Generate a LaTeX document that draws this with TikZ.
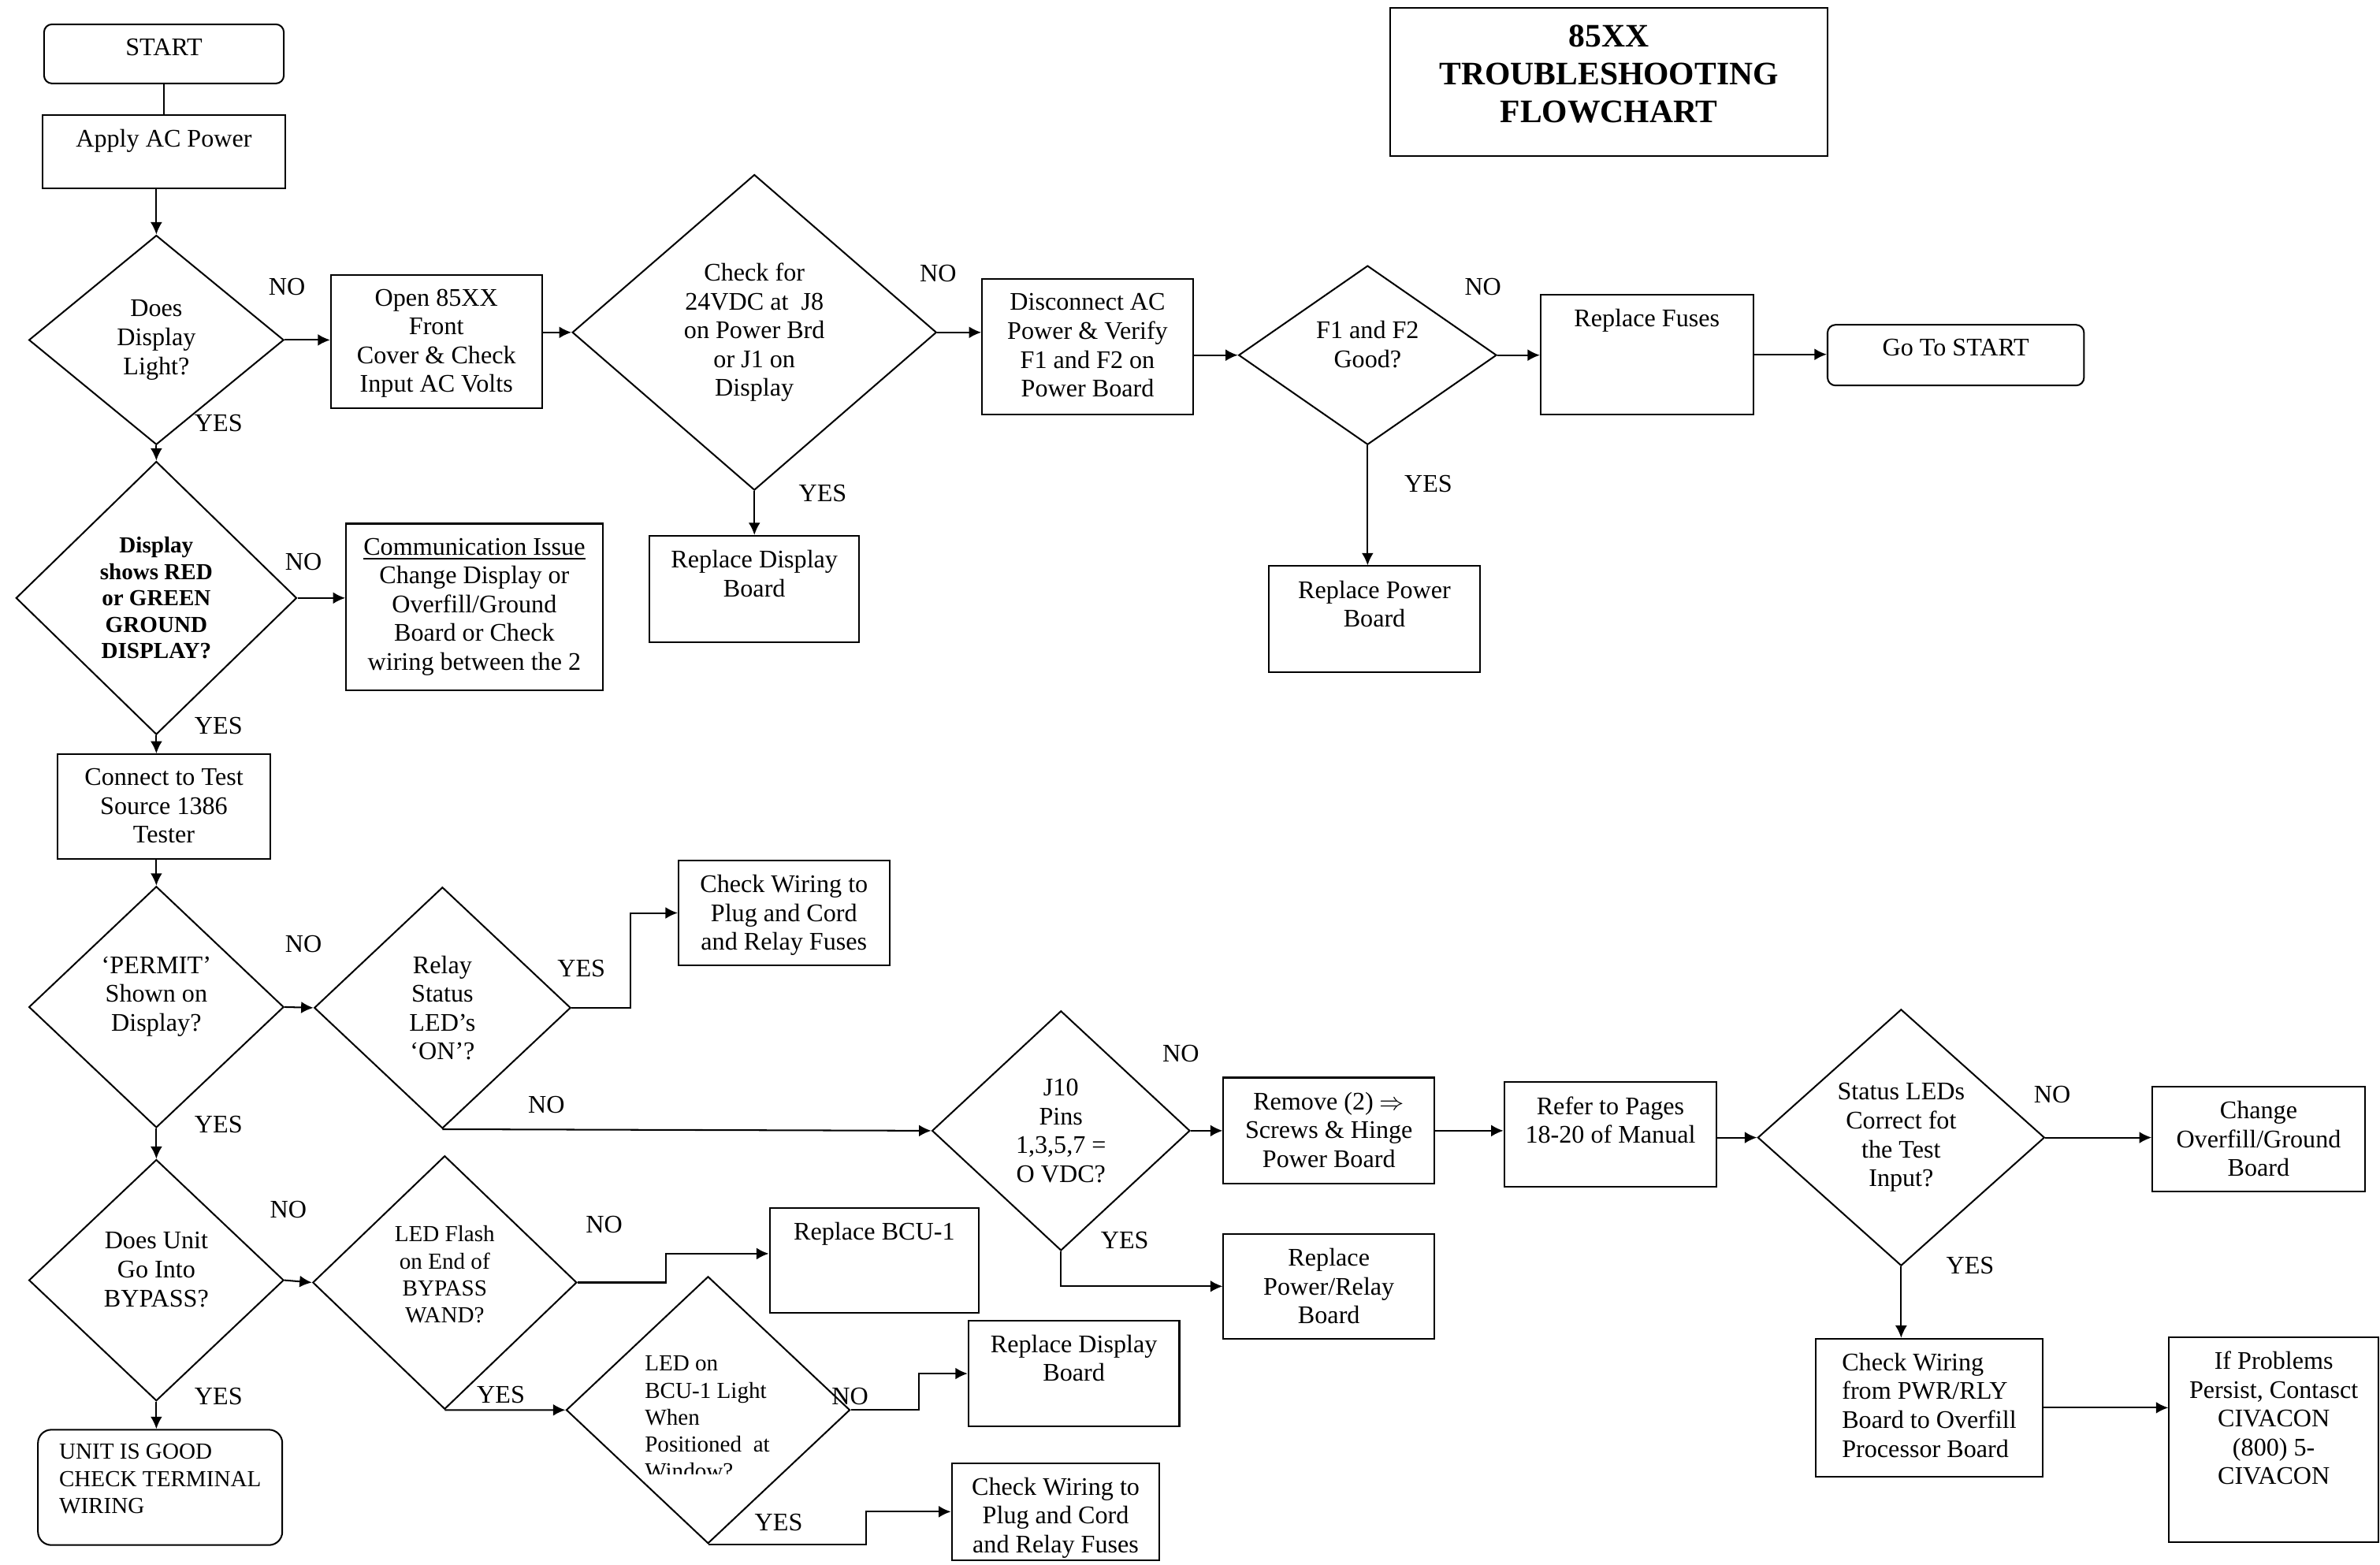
\documentclass[tikz,border=0pt]{standalone}
\usepackage{fontspec}
\setmainfont{Liberation Serif}
\usetikzlibrary{shapes.geometric,arrows.meta}

\newcommand{\fsn}{\fontsize{9.5}{10.8}\selectfont}
\newcommand{\fss}{\fontsize{8.6}{10.1}\selectfont}
\newcommand{\fbd}{\fontsize{8.6}{9.9}\selectfont\bfseries}
\newcommand{\ftl}{\fontsize{12.3}{14.2}\selectfont\bfseries}

\tikzset{
  box/.style={draw, rectangle, inner sep=0pt, line width=0.6pt},
  rbox/.style={box, rounded corners=3pt},
  dia/.style={draw, diamond, inner sep=0pt, line width=0.6pt},
  btxt/.style={anchor=north, align=center, inner sep=2pt, yshift=-3.5pt, font=\fsn},
  dtxt/.style={align=center, inner sep=0pt, font=\fsn},
  lbl/.style={inner sep=1pt, font=\fsn},
  arr/.style={-{Latex[length=4.6pt,width=4.4pt]}, line width=0.6pt}
}

\begin{document}
\begin{tikzpicture}[x=0.02cm, y=-0.02cm]
\useasboundingbox (0,0) rectangle (1568,1031);

% title
\node[box, minimum width=5.76cm, minimum height=1.96cm,
  label={[anchor=north, align=center, inner sep=2pt, yshift=-4.7pt, font=\ftl]90:{85XX\\TROUBLESHOOTING\\FLOWCHART}}] (title) at (1060,54) {};

% top row
\node[rbox, minimum width=3.16cm, minimum height=0.78cm, label={[btxt]90:START}] (start) at (108,35.5) {};
\node[box, minimum width=3.2cm, minimum height=0.96cm, label={[btxt]90:{Apply AC Power}}] (apply) at (108,100) {};
\node[dia, minimum width=3.36cm, minimum height=2.76cm, label={[dtxt]center:{Does\\Display\\Light?}}] (d1) at (103,224) {};
\node[box, minimum width=2.78cm, minimum height=1.76cm, label={[btxt]90:{Open 85XX\\Front\\Cover \& Check\\Input AC Volts}}] (open) at (287.5,225) {};
\node[dia, minimum width=4.8cm, minimum height=4.16cm, label={[dtxt]center:{Check for\\24VDC at\ \ J8\\on Power Brd\\or J1 on\\Display}}] (d2) at (497,219) {};
\node[box, minimum width=2.76cm, minimum height=1.4cm, label={[btxt]90:{Replace Display\\Board}}] (repdisp1) at (497,388) {};
\node[box, minimum width=2.78cm, minimum height=1.78cm, label={[btxt]90:{Disconnect AC\\Power \& Verify\\F1 and F2 on\\Power Board}}] (disc) at (716.5,228.5) {};
\node[dia, minimum width=3.4cm, minimum height=2.36cm, label={[dtxt, yshift=4pt]center:{F1 and F2\\Good?}}] (d3) at (901,234) {};
\node[box, minimum width=2.78cm, minimum height=1.4cm, label={[btxt]90:{Replace Power\\Board}}] (reppower) at (905.5,408) {};
\node[box, minimum width=2.8cm, minimum height=1.58cm, label={[btxt]90:{Replace Fuses}}] (fuses) at (1085,233.5) {};
\node[rbox, minimum width=3.38cm, minimum height=0.8cm, label={[btxt]90:{Go To START}}] (goto) at (1288.5,234) {};

% display check
\node[dia, minimum width=3.7cm, minimum height=3.6cm, label={[dtxt, font=\fbd]center:{Display\\shows RED\\or GREEN\\GROUND\\DISPLAY?}}] (d4) at (103,394) {};
\node[box, minimum width=3.38cm, minimum height=2.2cm, label={[btxt]90:{\underline{Communication Issue}\\Change Display or\\Overfill/Ground\\Board or Check\\wiring between the 2}}] (comm) at (312.5,400) {};
\node[box, minimum width=2.8cm, minimum height=1.38cm, label={[btxt]90:{Connect to Test\\Source 1386\\Tester}}] (connect) at (108,531.5) {};

% permit / relay branch
\node[dia, minimum width=3.36cm, minimum height=3.18cm, label={[dtxt, yshift=4pt]center:{‘PERMIT’\\Shown on\\Display?}}] (d5) at (103,663.5) {};
\node[dia, minimum width=3.38cm, minimum height=3.18cm, label={[dtxt]center:{Relay\\Status\\LED’s\\‘ON’?}}] (d6) at (291.5,664) {};
\node[box, minimum width=2.78cm, minimum height=1.38cm, label={[btxt]90:{Check Wiring to\\Plug and Cord\\and Relay Fuses}}] (chk1) at (516.5,601.5) {};
\node[dia, minimum width=3.4cm, minimum height=3.16cm, label={[dtxt]center:{J10\\Pins\\1,3,5,7 =\\O VDC?}}] (d7) at (699,745) {};
\node[box, minimum width=2.78cm, minimum height=1.4cm, label={[btxt]90:{Remove (2) $\Rightarrow$\\Screws \& Hinge\\Power Board}}] (remove) at (875.5,745) {};
\node[box, minimum width=2.78cm, minimum height=1.38cm, label={[btxt]90:{Replace\\Power/Relay\\Board}}] (reprelay) at (875.5,847.5) {};
\node[box, minimum width=2.8cm, minimum height=1.38cm, label={[btxt]90:{Refer to Pages\\18-20 of Manual}}] (refer) at (1061,747.5) {};
\node[dia, minimum width=3.78cm, minimum height=3.38cm, label={[dtxt]center:{Status LEDs\\Correct fot\\the Test\\Input?}}] (d8) at (1252.5,749.5) {};
\node[box, minimum width=2.8cm, minimum height=1.38cm, label={[btxt]90:{Change\\Overfill/Ground\\Board}}] (change) at (1488,750.5) {};
\node[box, minimum width=3cm, minimum height=1.82cm, label={[btxt, align=left]90:{Check Wiring\\from PWR/RLY\\Board to Overfill\\Processor Board}}] (check2) at (1271,927.5) {};
\node[box, minimum width=2.76cm, minimum height=2.7cm, label={[btxt]90:{If Problems\\Persist, Contasct\\CIVACON\\(800) 5-\\CIVACON}}] (persist) at (1498,948.5) {};

% bypass branch
\node[dia, minimum width=3.36cm, minimum height=3.18cm, label={[dtxt, yshift=4pt]center:{Does Unit\\Go Into\\BYPASS?}}] (d9) at (103,843.5) {};
\node[rbox, rounded corners=5pt, minimum width=3.22cm, minimum height=1.52cm, label={[btxt, align=left, font=\fss]90:{UNIT IS GOOD\\CHECK TERMINAL\\WIRING}}] (end) at (105.5,980) {};
\node[dia, minimum width=3.48cm, minimum height=3.34cm, label={[dtxt, font=\fss, yshift=3pt]center:{LED Flash\\on End of\\BYPASS\\WAND?}}] (d10) at (293,845) {};
\node[box, minimum width=2.76cm, minimum height=1.38cm, label={[btxt]90:{Replace BCU-1}}] (bcu) at (576,830.5) {};
\node[dia, minimum width=3.74cm, minimum height=3.52cm] (d11) at (466.5,929) {};
\begin{scope}
\clip (373,840) rectangle (560,971); % text box cuts the last line
\node[dtxt, font=\fss, align=left] (d11t) at (466,934) {LED on\\BCU-1 Light\\When\\Positioned\ \ at\\Window?};
\end{scope}
\node[box, minimum width=2.78cm, minimum height=1.4cm, label={[btxt]90:{Replace Display\\Board}}] (repdisp2) at (707.5,905) {};
\node[box, minimum width=2.74cm, minimum height=1.28cm, label={[btxt]90:{Check Wiring to\\Plug and Cord\\and Relay Fuses}}] (chk3) at (695.5,996) {};

% YES / NO labels
\node[lbl] (no1) at (189,189) {NO};
\node[lbl] (yes1) at (144,279) {YES};
\node[lbl] (no2) at (618,180) {NO};
\node[lbl] (yes2) at (542,325) {YES};
\node[lbl] (no3) at (977,189) {NO};
\node[lbl] (yes3) at (941,319) {YES};
\node[lbl] (no4) at (200,370) {NO};
\node[lbl] (yes4) at (144,478) {YES};
\node[lbl] (no5) at (200,622) {NO};
\node[lbl] (yes5) at (144,741) {YES};
\node[lbl] (yes6) at (383,638) {YES};
\node[lbl] (no6) at (360,728) {NO};
\node[lbl] (no7) at (778,694) {NO};
\node[lbl] (yes7) at (741,817) {YES};
\node[lbl] (no8) at (1352,721) {NO};
\node[lbl] (yes8) at (1298,834) {YES};
\node[lbl] (no9) at (190,797) {NO};
\node[lbl] (yes9) at (144,920) {YES};
\node[lbl] (no10) at (398,807) {NO};
\node[lbl] (yes10) at (330,919) {YES};
\node[lbl] (no11) at (560,920) {NO};
\node[lbl] (yes11) at (513,1003) {YES};

% connectors
\draw[line width=0.6pt] (start) -- (apply);
\draw[arr] (apply.south -| d1.north) -- (d1.north);
\draw[arr] (d1.east) -- (open.west |- d1.east);
\draw[arr] (open.east |- d2.west) -- (d2.west);
\draw[arr] (d2.east) -- (disc.west |- d2.east);
\draw[arr] (d2.south) -- (repdisp1.north);
\draw[arr] (disc.east |- d3.west) -- (d3.west);
\draw[arr] (d3.east) -- (fuses.west |- d3.east);
\draw[arr] (d3.south) -- (reppower.north -| d3.south);
\draw[arr] (fuses.east) -- (goto.west |- fuses.east);
\draw[arr] (d1.south) -- (d4.north);
\draw[arr] (d4.east) -- (comm.west |- d4.east);
\draw[arr] (d4.south) -- (connect.north -| d4.south);
\draw[arr] (connect.south -| d5.north) -- (d5.north);
\draw[arr] (d5.east) -- (d6.west);
\draw[arr] (d6.east) -- ++(39,0) |- (chk1.west);
\draw[arr] (d6.south) -- (d7.west);
\draw[arr] (d7.east) -- (remove.west |- d7.east);
\draw[arr] (d7.south) |- (reprelay.west);
\draw[arr] (remove.east) -- (refer.west |- remove.east);
\draw[arr] (refer.east |- d8.west) -- (d8.west);
\draw[arr] (d8.east) -- (change.west |- d8.east);
\draw[arr] (d8.south) -- (check2.north -| d8.south);
\draw[arr] (check2.east) -- (persist.west |- check2.east);
\draw[arr] (d5.south) -- (d9.north);
\draw[arr] (d9.east) -- (d10.west);
\draw[arr] (d9.south) -- (end.north -| d9.south);
\draw[arr] (d10.east) -- ++(58,0) |- ([yshift=0.09cm]bcu.west);
\draw[arr] (d10.south) -- (d11.west);
\draw[arr] (d11.east) -- ++(45,0) |- (repdisp2.west);
\draw[arr] (d11.south) -- ++(104,0) |- (chk3.west);
\end{tikzpicture}
\end{document}
